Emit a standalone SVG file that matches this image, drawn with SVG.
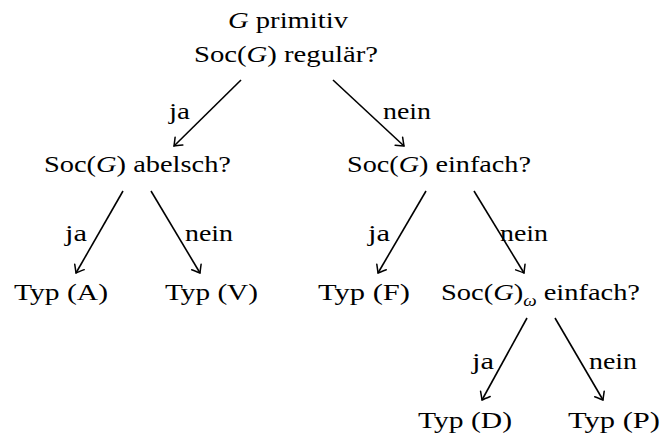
<svg xmlns="http://www.w3.org/2000/svg" width="663" height="441" viewBox="0 0 663 441">
<style>
text{font-family:"Liberation Serif","DejaVu Serif","Times New Roman",serif;font-size:24px;fill:#000}
.it{font-style:italic}
.e{stroke:#000;stroke-width:1.6;fill:none;marker-end:url(#ah)}
</style>
<defs>
<marker id="ah" markerWidth="14" markerHeight="14" refX="0" refY="0" viewBox="-8 -7 10 14" orient="auto" markerUnits="userSpaceOnUse">
<path d="M-7,-5.5 Q-2,-1.5 0,0 Q-2,1.5 -7,5.5" fill="none" stroke="#000" stroke-width="1.5" stroke-linecap="round"/>
</marker>
</defs>
<rect width="663" height="441" fill="#fff"/>
<g id="root">
<text x="228" y="28" textLength="120" lengthAdjust="spacingAndGlyphs"><tspan class="it">G</tspan> primitiv</text>
<text x="194" y="62" textLength="184" lengthAdjust="spacingAndGlyphs">Soc(<tspan class="it">G</tspan>) regulär?</text>
</g>
<g id="abelsch">
<text x="44" y="172" textLength="187" lengthAdjust="spacingAndGlyphs">Soc(<tspan class="it">G</tspan>) abelsch?</text>
</g>
<g id="einfach">
<text x="347" y="172" textLength="184" lengthAdjust="spacingAndGlyphs">Soc(<tspan class="it">G</tspan>) einfach?</text>
</g>
<g id="typA"><text x="14" y="300" textLength="94" lengthAdjust="spacingAndGlyphs">Typ (A)</text></g>
<g id="typV"><text x="165" y="300" textLength="93" lengthAdjust="spacingAndGlyphs">Typ (V)</text></g>
<g id="typF"><text x="318" y="300" textLength="92" lengthAdjust="spacingAndGlyphs">Typ (F)</text></g>
<g id="einfachOmega">
<text x="441" y="300" textLength="199" lengthAdjust="spacingAndGlyphs">Soc(<tspan class="it">G</tspan>)<tspan dy="6" font-size="16" class="it">ω</tspan><tspan dy="-6"> einfach?</tspan></text>
</g>
<g id="typD"><text x="418" y="428" textLength="94" lengthAdjust="spacingAndGlyphs">Typ (D)</text></g>
<g id="typP"><text x="568" y="428" textLength="92" lengthAdjust="spacingAndGlyphs">Typ (P)</text></g>
<g id="connectors">
<line class="e" x1="241" y1="80" x2="174" y2="146"/>
<line class="e" x1="333" y1="80" x2="404" y2="146"/>
<line class="e" x1="123" y1="191" x2="76" y2="273"/>
<line class="e" x1="151" y1="191" x2="200" y2="273"/>
<line class="e" x1="426" y1="191" x2="378" y2="273"/>
<line class="e" x1="474" y1="191" x2="524" y2="273"/>
<line class="e" x1="527" y1="318" x2="482" y2="400"/>
<line class="e" x1="555" y1="318" x2="603" y2="400"/>
<text x="169" y="119" textLength="21" lengthAdjust="spacingAndGlyphs">ja</text>
<text x="383" y="119" textLength="48" lengthAdjust="spacingAndGlyphs">nein</text>
<text x="65" y="241" textLength="22" lengthAdjust="spacingAndGlyphs">ja</text>
<text x="185" y="241" textLength="48" lengthAdjust="spacingAndGlyphs">nein</text>
<text x="368" y="241" textLength="22" lengthAdjust="spacingAndGlyphs">ja</text>
<text x="500" y="241" textLength="48" lengthAdjust="spacingAndGlyphs">nein</text>
<text x="472" y="369" textLength="22" lengthAdjust="spacingAndGlyphs">ja</text>
<text x="589" y="369" textLength="48" lengthAdjust="spacingAndGlyphs">nein</text>
</g>
</svg>
